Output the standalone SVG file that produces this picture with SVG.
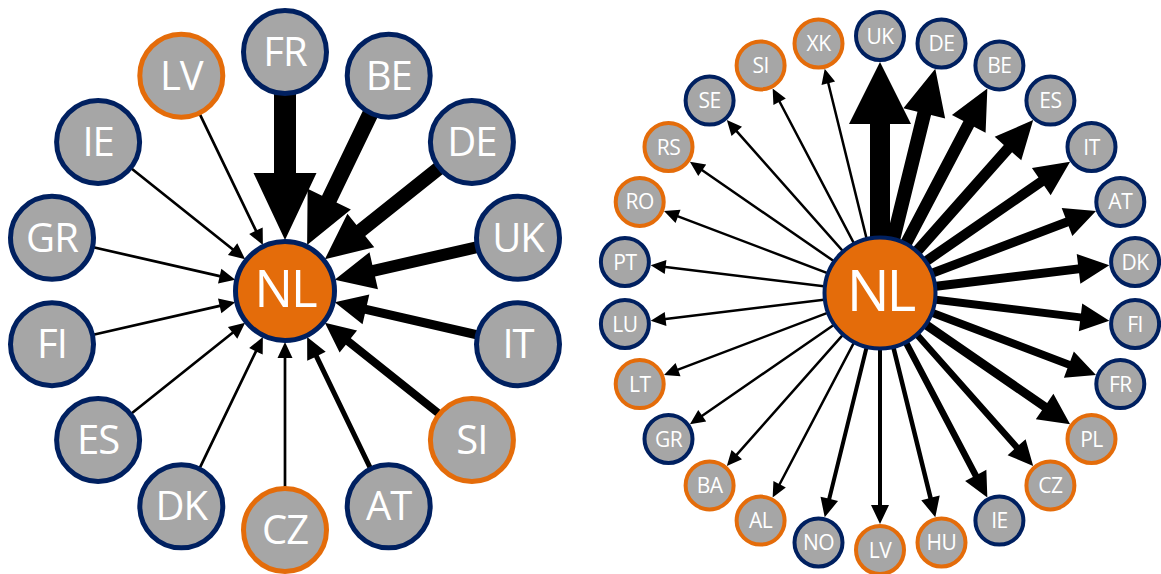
<svg xmlns="http://www.w3.org/2000/svg" xmlns:xlink="http://www.w3.org/1999/xlink" width="1161" height="574" viewBox="0 0 1161 574">
<style>
.a{fill:#000}
.n{fill:#A6A6A6}
.L{stroke-width:5}
.S{stroke-width:4}
.b{stroke:#002060}
.o{stroke:#E46C0A}
.nl{fill:#E46C0A;stroke:#002060}
.t{font-family:"Open Sans","Liberation Sans",sans-serif;fill:#fff;text-anchor:middle}
.tL{font-size:40px;letter-spacing:-1px}
.tS{font-size:21px;letter-spacing:-0.5px}
</style>
<defs>
<polygon id="thinL" class="a" points="200,-1.35 67,-1.35 67,-7.5 51,0 67,7.5 67,1.35 200,1.35"/>
<polygon id="thinR" class="a" points="40,-1.25 216,-1.25 216,-7 231,0 216,7 216,1.25 40,1.25"/>
</defs>
<g id="connectors">
<g id="left-edges" transform="translate(285,291)">
<polygon class="a" transform="rotate(-90)" points="200,-11 118,-11 118,-31.5 51,0 118,31.5 118,11 200,11"/>
<polygon class="a" transform="rotate(-64.286)" points="200,-8 102,-8 102,-24 51,0 102,24 102,8 200,8"/>
<polygon class="a" transform="rotate(-38.571)" points="200,-7 97,-7 97,-21.5 51,0 97,21.5 97,7 200,7"/>
<polygon class="a" transform="rotate(-12.857)" points="200,-6 91,-6 91,-19 51,0 91,19 91,6 200,6"/>
<polygon class="a" transform="rotate(12.857)" points="200,-4.5 83,-4.5 83,-15.25 51,0 83,15.25 83,4.5 200,4.5"/>
<polygon class="a" transform="rotate(38.571)" points="200,-4 81,-4 81,-14 51,0 81,14 81,4 200,4"/>
<polygon class="a" transform="rotate(64.286)" points="200,-2.5 72.5,-2.5 72.5,-10.25 51,0 72.5,10.25 72.5,2.5 200,2.5"/>
<use xlink:href="#thinL" transform="rotate(90)"/>
<use xlink:href="#thinL" transform="rotate(115.714)"/>
<use xlink:href="#thinL" transform="rotate(141.429)"/>
<use xlink:href="#thinL" transform="rotate(167.143)"/>
<use xlink:href="#thinL" transform="rotate(192.857)"/>
<use xlink:href="#thinL" transform="rotate(218.571)"/>
<use xlink:href="#thinL" transform="rotate(244.286)"/>
</g>
<g id="right-edges" transform="translate(880,293)">
<polygon class="a" transform="rotate(-90)" points="40,-10 169,-10 169,-31 231,0 169,31 169,10 40,10"/>
<polygon class="a" transform="rotate(-76.154)" points="40,-7 185,-7 185,-21.5 231,0 185,21.5 185,7 40,7"/>
<polygon class="a" transform="rotate(-62.308)" points="40,-6 191,-6 191,-19 231,0 191,19 191,6 40,6"/>
<polygon class="a" transform="rotate(-48.462)" points="40,-5.5 193,-5.5 193,-17.75 231,0 193,17.75 193,5.5 40,5.5"/>
<polygon class="a" transform="rotate(-34.615)" points="40,-5 196,-5 196,-16.5 231,0 196,16.5 196,5 40,5"/>
<polygon class="a" transform="rotate(-20.769)" points="40,-4.5 200,-4.5 200,-15 231,0 200,15 200,4.5 40,4.5"/>
<polygon class="a" transform="rotate(-6.923)" points="40,-4.5 200,-4.5 200,-15 231,0 200,15 200,4.5 40,4.5"/>
<polygon class="a" transform="rotate(6.923)" points="40,-4 202,-4 202,-14 231,0 202,14 202,4 40,4"/>
<polygon class="a" transform="rotate(20.769)" points="40,-4 202,-4 202,-14 231,0 202,14 202,4 40,4"/>
<polygon class="a" transform="rotate(34.615)" points="40,-4.5 200,-4.5 200,-15.5 231,0 200,15.5 200,4.5 40,4.5"/>
<polygon class="a" transform="rotate(48.462)" points="40,-3.25 206,-3.25 206,-12 231,0 206,12 206,3.25 40,3.25"/>
<polygon class="a" transform="rotate(62.308)" points="40,-3.25 206,-3.25 206,-12 231,0 206,12 206,3.25 40,3.25"/>
<polygon class="a" transform="rotate(76.154)" points="40,-2.25 211,-2.25 211,-9.5 231,0 211,9.5 211,2.25 40,2.25"/>
<polygon class="a" transform="rotate(90)" points="40,-2 212,-2 212,-9 231,0 212,9 212,2 40,2"/>
<polygon class="a" transform="rotate(103.846)" points="40,-2 212,-2 212,-9 231,0 212,9 212,2 40,2"/>
<use xlink:href="#thinR" transform="rotate(117.692)"/>
<use xlink:href="#thinR" transform="rotate(131.538)"/>
<use xlink:href="#thinR" transform="rotate(145.385)"/>
<use xlink:href="#thinR" transform="rotate(159.231)"/>
<use xlink:href="#thinR" transform="rotate(173.077)"/>
<use xlink:href="#thinR" transform="rotate(186.923)"/>
<use xlink:href="#thinR" transform="rotate(200.769)"/>
<use xlink:href="#thinR" transform="rotate(214.615)"/>
<use xlink:href="#thinR" transform="rotate(228.462)"/>
<use xlink:href="#thinR" transform="rotate(242.308)"/>
<use xlink:href="#thinR" transform="rotate(256.154)"/>
</g>
</g>
<g id="left-nodes">
<g id="L-NL"><circle class="nl" cx="285" cy="291" r="49.5" stroke-width="5"/><text class="t" x="285" y="307" font-size="51" letter-spacing="-2">NL</text></g>
<g id="L-FR"><circle class="n L b" cx="285" cy="52" r="41.5"/><text class="t tL" x="285" y="66">FR</text></g>
<g id="L-BE"><circle class="n L b" cx="388.7" cy="75.7" r="41.5"/><text class="t tL" x="388.7" y="89.7">BE</text></g>
<g id="L-DE"><circle class="n L b" cx="471.9" cy="142" r="41.5"/><text class="t tL" x="471.9" y="156">DE</text></g>
<g id="L-UK"><circle class="n L b" cx="518" cy="237.8" r="41.5"/><text class="t tL" x="518" y="251.8">UK</text></g>
<g id="L-IT"><circle class="n L b" cx="518" cy="344.2" r="41.5"/><text class="t tL" x="518" y="358.2">IT</text></g>
<g id="L-SI"><circle class="n L o" cx="471.9" cy="440" r="41.5"/><text class="t tL" x="471.9" y="454">SI</text></g>
<g id="L-AT"><circle class="n L b" cx="388.7" cy="506.3" r="41.5"/><text class="t tL" x="388.7" y="520.3">AT</text></g>
<g id="L-CZ"><circle class="n L o" cx="285" cy="530" r="41.5"/><text class="t tL" x="285" y="544">CZ</text></g>
<g id="L-DK"><circle class="n L b" cx="181.3" cy="506.3" r="41.5"/><text class="t tL" x="181.3" y="520.3">DK</text></g>
<g id="L-ES"><circle class="n L b" cx="98.1" cy="440" r="41.5"/><text class="t tL" x="98.1" y="454">ES</text></g>
<g id="L-FI"><circle class="n L b" cx="52" cy="344.2" r="41.5"/><text class="t tL" x="52" y="358.2">FI</text></g>
<g id="L-GR"><circle class="n L b" cx="52" cy="237.8" r="41.5"/><text class="t tL" x="52" y="251.8">GR</text></g>
<g id="L-IE"><circle class="n L b" cx="98.1" cy="142" r="41.5"/><text class="t tL" x="98.1" y="156">IE</text></g>
<g id="L-LV"><circle class="n L o" cx="181.3" cy="75.7" r="41.5"/><text class="t tL" x="181.3" y="89.7">LV</text></g>
</g>
<g id="right-nodes">
<g id="R-NL"><circle class="nl" cx="880" cy="293" r="55.5" stroke-width="4"/><text class="t" x="880" y="311" font-size="57" letter-spacing="-3">NL</text></g>
<g id="R-UK"><circle class="n S b" cx="880" cy="36" r="24"/><text class="t tS" x="880" y="43.5">UK</text></g>
<g id="R-DE"><circle class="n S b" cx="941.5" cy="43.5" r="24"/><text class="t tS" x="941.5" y="51">DE</text></g>
<g id="R-BE"><circle class="n S b" cx="999.4" cy="65.4" r="24"/><text class="t tS" x="999.4" y="72.9">BE</text></g>
<g id="R-ES"><circle class="n S b" cx="1050.4" cy="100.6" r="24"/><text class="t tS" x="1050.4" y="108.1">ES</text></g>
<g id="R-IT"><circle class="n S b" cx="1091.5" cy="147" r="24"/><text class="t tS" x="1091.5" y="154.5">IT</text></g>
<g id="R-AT"><circle class="n S b" cx="1120.3" cy="201.9" r="24"/><text class="t tS" x="1120.3" y="209.4">AT</text></g>
<g id="R-DK"><circle class="n S b" cx="1135.1" cy="262" r="24"/><text class="t tS" x="1135.1" y="269.5">DK</text></g>
<g id="R-FI"><circle class="n S b" cx="1135.1" cy="324" r="24"/><text class="t tS" x="1135.1" y="331.5">FI</text></g>
<g id="R-FR"><circle class="n S b" cx="1120.3" cy="384.1" r="24"/><text class="t tS" x="1120.3" y="391.6">FR</text></g>
<g id="R-PL"><circle class="n S o" cx="1091.5" cy="439" r="24"/><text class="t tS" x="1091.5" y="446.5">PL</text></g>
<g id="R-CZ"><circle class="n S o" cx="1050.4" cy="485.4" r="24"/><text class="t tS" x="1050.4" y="492.9">CZ</text></g>
<g id="R-IE"><circle class="n S b" cx="999.4" cy="520.6" r="24"/><text class="t tS" x="999.4" y="528.1">IE</text></g>
<g id="R-HU"><circle class="n S o" cx="941.5" cy="542.5" r="24"/><text class="t tS" x="941.5" y="550">HU</text></g>
<g id="R-LV"><circle class="n S o" cx="880" cy="550" r="24"/><text class="t tS" x="880" y="557.5">LV</text></g>
<g id="R-NO"><circle class="n S b" cx="818.5" cy="542.5" r="24"/><text class="t tS" x="818.5" y="550">NO</text></g>
<g id="R-AL"><circle class="n S o" cx="760.6" cy="520.6" r="24"/><text class="t tS" x="760.6" y="528.1">AL</text></g>
<g id="R-BA"><circle class="n S o" cx="709.6" cy="485.4" r="24"/><text class="t tS" x="709.6" y="492.9">BA</text></g>
<g id="R-GR"><circle class="n S b" cx="668.5" cy="439" r="24"/><text class="t tS" x="668.5" y="446.5">GR</text></g>
<g id="R-LT"><circle class="n S o" cx="639.7" cy="384.1" r="24"/><text class="t tS" x="639.7" y="391.6">LT</text></g>
<g id="R-LU"><circle class="n S b" cx="624.9" cy="324" r="24"/><text class="t tS" x="624.9" y="331.5">LU</text></g>
<g id="R-PT"><circle class="n S b" cx="624.9" cy="262" r="24"/><text class="t tS" x="624.9" y="269.5">PT</text></g>
<g id="R-RO"><circle class="n S o" cx="639.7" cy="201.9" r="24"/><text class="t tS" x="639.7" y="209.4">RO</text></g>
<g id="R-RS"><circle class="n S o" cx="668.5" cy="147" r="24"/><text class="t tS" x="668.5" y="154.5">RS</text></g>
<g id="R-SE"><circle class="n S b" cx="709.6" cy="100.6" r="24"/><text class="t tS" x="709.6" y="108.1">SE</text></g>
<g id="R-SI"><circle class="n S o" cx="760.6" cy="65.4" r="24"/><text class="t tS" x="760.6" y="72.9">SI</text></g>
<g id="R-XK"><circle class="n S o" cx="818.5" cy="43.5" r="24"/><text class="t tS" x="818.5" y="51">XK</text></g>
</g>
</svg>
